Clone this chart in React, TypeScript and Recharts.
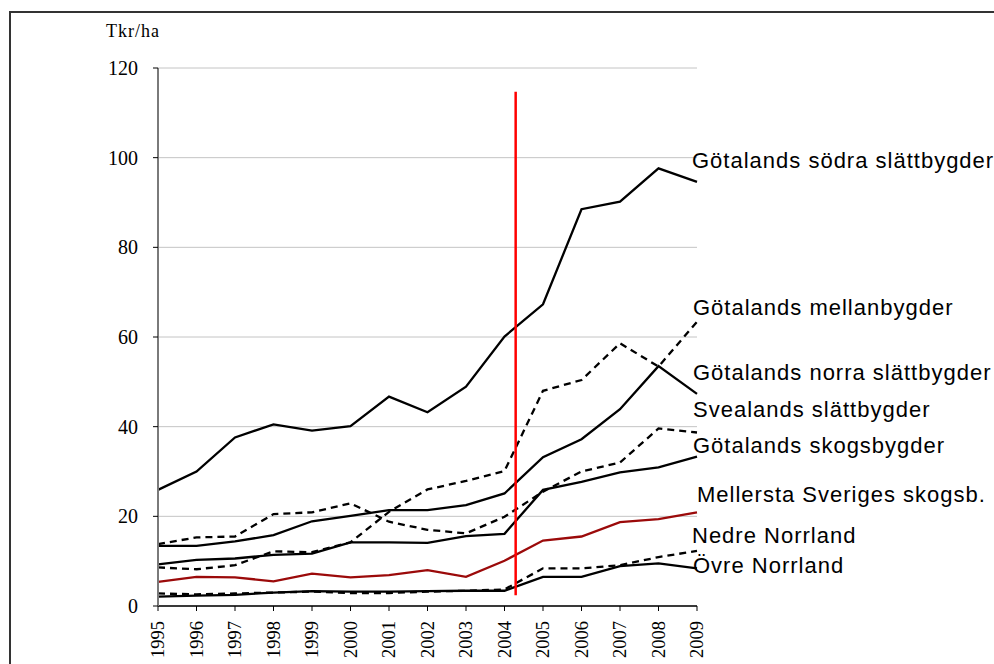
import React from 'react';
import { LineChart, Line, XAxis, YAxis, CartesianGrid, ReferenceLine } from 'recharts';

const years = [1995, 1996, 1997, 1998, 1999, 2000, 2001, 2002, 2003, 2004, 2005, 2006, 2007, 2008, 2009];
const yTicks = [0, 20, 40, 60, 80, 100, 120];

const sodraSlattbygder = [25.9, 30.0, 37.6, 40.5, 39.1, 40.1, 46.7, 43.2, 48.9, 60.1, 67.3, 88.5, 90.2, 97.6, 94.6];
const mellanbygder = [8.6, 8.2, 9.1, 12.2, 12.0, 14.2, 21.0, 26.0, 27.9, 30.1, 48.0, 50.4, 58.6, 53.4, 63.4];
const norraSlattbygder = [13.4, 13.4, 14.4, 15.8, 18.9, 20.1, 21.4, 21.4, 22.5, 25.1, 33.2, 37.2, 43.9, 53.5, 47.3];
const svealandsSlattbygder = [13.8, 15.3, 15.5, 20.5, 20.9, 22.9, 18.8, 17.0, 16.2, 19.9, 25.5, 30.0, 32.0, 39.6, 38.7];
const skogsbygder = [9.3, 10.3, 10.6, 11.4, 11.7, 14.2, 14.2, 14.1, 15.6, 16.1, 25.9, 27.7, 29.8, 30.9, 33.3];
const mellerstaSkogsb = [5.4, 6.5, 6.4, 5.5, 7.2, 6.4, 6.9, 8.0, 6.5, 10.1, 14.6, 15.5, 18.7, 19.4, 20.9];
const nedreNorrland = [2.8, 2.6, 2.8, 3.0, 3.2, 2.9, 2.9, 3.2, 3.4, 3.7, 8.4, 8.4, 9.1, 10.9, 12.3];
const ovreNorrland = [2.1, 2.3, 2.5, 3.0, 3.3, 3.2, 3.2, 3.3, 3.4, 3.4, 6.5, 6.5, 8.9, 9.5, 8.4];

// red marker line (year position and vertical extent, in data units)
const markerYear = 2004.29;
const markerRange = [2.4, 114.7];

const seriesLabels = [
  'Götalands södra slättbygder',
  'Götalands mellanbygder',
  'Götalands norra slättbygder',
  'Svealands slättbygder',
  'Götalands skogsbygder',
  'Mellersta Sveriges skogsb.',
  'Nedre Norrland',
  'Övre Norrland',
];

const data = years.map((year, i) => ({
  year,
  sodra: sodraSlattbygder[i],
  mellan: mellanbygder[i],
  norra: norraSlattbygder[i],
  svea: svealandsSlattbygder[i],
  skog: skogsbygder[i],
  mellersta: mellerstaSkogsb[i],
  nedre: nedreNorrland[i],
  ovre: ovreNorrland[i],
}));

const serif = '"Liberation Serif", "Times New Roman", serif';
const sans = '"Liberation Sans", Arial, sans-serif';

const labelPos = [
  { x: 692, y: 168 },
  { x: 693, y: 315 },
  { x: 693, y: 380 },
  { x: 693, y: 417 },
  { x: 693, y: 453 },
  { x: 697, y: 502 },
  { x: 692, y: 543 },
  { x: 693, y: 573 },
];

const XTick = (props: any) => {
  const { x, y, payload } = props;
  return (
    <text
      x={x}
      y={y}
      transform={`rotate(-90, ${x}, ${y})`}
      textAnchor="end"
      dominantBaseline="central"
      fontFamily={serif}
      fontSize={18.5}
      fill="#000"
    >
      {payload.value}
    </text>
  );
};

const YTick = (props: any) => {
  const { x, y, payload } = props;
  return (
    <text x={x} y={y} textAnchor="end" dominantBaseline="central" fontFamily={serif} fontSize={20} fill="#000">
      {payload.value}
    </text>
  );
};

export default function App() {
  const solid = { stroke: '#000', strokeWidth: 2.3 };
  const dashed = { stroke: '#000', strokeWidth: 2.3, strokeDasharray: '7 5' };
  return (
    <div style={{ position: 'absolute', left: 0, top: 0, width: 994, height: 664, overflow: 'hidden', background: '#fff' }}>
      <div
        style={{
          position: 'absolute',
          left: 9,
          top: 11,
          width: 1100,
          height: 800,
          borderLeft: '2px solid #333',
          borderTop: '2px solid #333',
        }}
      />
      <div style={{ position: 'absolute', left: 0, top: 0 }}>
        <LineChart width={994} height={664} data={data} margin={{ top: 68, right: 297, bottom: 0, left: 98 }}>
          <CartesianGrid vertical={false} stroke="#c4c4c4" strokeWidth={1} />
          <XAxis
            dataKey="year"
            type="number"
            domain={[1995, 2009]}
            ticks={years}
            interval={0}
            height={58}
            tickSize={5}
            tickMargin={10}
            axisLine={{ stroke: '#000', strokeWidth: 1.5 }}
            tickLine={{ stroke: '#000' }}
            tick={<XTick />}
          />
          <YAxis
            type="number"
            domain={[0, 120]}
            ticks={yTicks}
            interval={0}
            width={60}
            tickSize={5}
            tickMargin={15}
            axisLine={{ stroke: '#7a7a7a', strokeWidth: 2 }}
            tickLine={{ stroke: '#000' }}
            tick={<YTick />}
          />
          <Line dataKey="sodra" {...solid} dot={false} isAnimationActive={false} />
          <Line dataKey="mellan" {...dashed} dot={false} isAnimationActive={false} />
          <Line dataKey="norra" {...solid} dot={false} isAnimationActive={false} />
          <Line dataKey="svea" {...dashed} dot={false} isAnimationActive={false} />
          <Line dataKey="skog" {...solid} dot={false} isAnimationActive={false} />
          <Line dataKey="mellersta" stroke="#9b0a0a" strokeWidth={2.3} dot={false} isAnimationActive={false} />
          <Line dataKey="nedre" {...dashed} dot={false} isAnimationActive={false} />
          <Line dataKey="ovre" {...solid} dot={false} isAnimationActive={false} />
          <ReferenceLine
            segment={[
              { x: markerYear, y: markerRange[0] },
              { x: markerYear, y: markerRange[1] },
            ]}
            stroke="#ff0000"
            strokeWidth={2.5}
          />
        </LineChart>
      </div>
      <svg width={994} height={664} style={{ position: 'absolute', left: 0, top: 0, pointerEvents: 'none' }}>
        <text x={106} y={37} fontFamily={serif} fontSize={18} letterSpacing={1} fill="#000">
          Tkr/ha
        </text>
        {seriesLabels.map((t, i) => (
          <text key={t} x={labelPos[i].x} y={labelPos[i].y} fontFamily={sans} fontSize={22} letterSpacing={1} fill="#000">
            {t}
          </text>
        ))}
      </svg>
    </div>
  );
}
